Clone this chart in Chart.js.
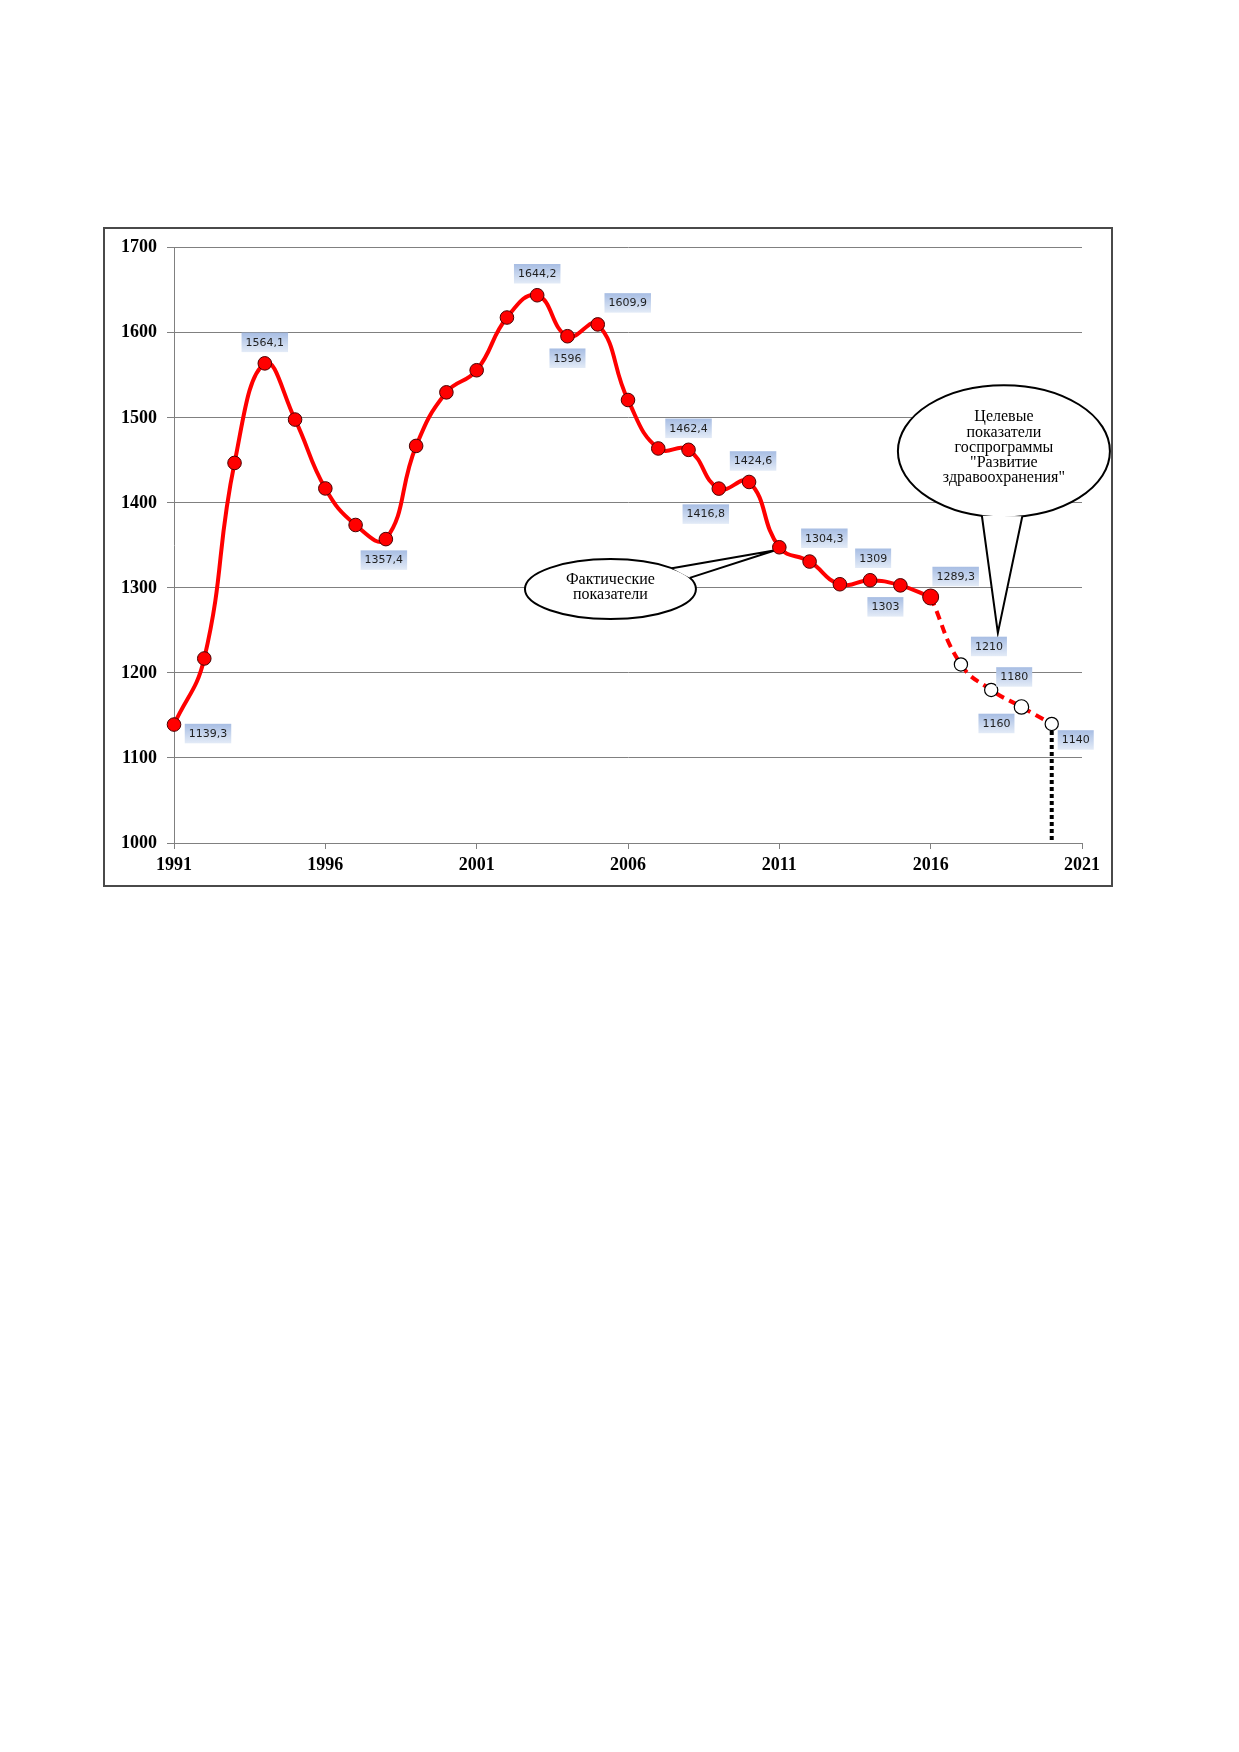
<!DOCTYPE html>
<html>
<head>
<meta charset="utf-8">
<script src="https://cdn.jsdelivr.net/npm/chart.js@4.4.1/dist/chart.umd.min.js"></script>
<style>
  html, body { margin: 0; padding: 0; background: #ffffff; }
  body { width: 1239px; height: 1752px; position: relative; overflow: hidden; }
  #wrap { position: absolute; left: 103px; top: 227px; width: 1010px; height: 660px; }
</style>
</head>
<body>
<div id="wrap"><canvas id="c" width="1010" height="660"></canvas></div>
<script>
// ---- data ----
const years = [1991, 1992, 1993, 1994, 1995, 1996, 1997, 1998, 1999, 2000,
               2001, 2002, 2003, 2004, 2005, 2006, 2007, 2008, 2009, 2010,
               2011, 2012, 2013, 2014, 2015, 2016];
const actualValues = [1139.3, 1217, 1447, 1564.1, 1498, 1417, 1374, 1357.4, 1467, 1530,
                      1556, 1618, 1644.2, 1596, 1609.9, 1521, 1464, 1462.4, 1416.8, 1424.6,
                      1347.8, 1331, 1304.3, 1309, 1303, 1289.3];
const targetYears = [2016, 2017, 2018, 2019, 2020];
const targetValues = [1289.3, 1210, 1180, 1160, 1140];
const markerLineYears = [2020, 2020];
const markerLineValues = [1140, 1000];
const xTickLabels = [1991, 1996, 2001, 2006, 2011, 2016, 2021];
const yTickLabels = [1000, 1100, 1200, 1300, 1400, 1500, 1600, 1700];
const labelYears = [1991, 1994, 1998, 2003, 2004, 2005, 2008, 2009, 2010, 2013,
                    2014, 2015, 2016, 2017, 2018, 2019, 2020];
const calloutActualText = ['Фактические', 'показатели'];
const calloutTargetText = ['Целевые', 'показатели', 'госпрограммы', '"Развитие', 'здравоохранения"'];

// ---- styling (label offsets in px, relative to the point) ----
const labelOffsets = {
  1991: [34, 9], 1994: [0, -21], 1998: [-2, 21], 2003: [0, -21.5], 2004: [0, 22],
  2005: [30, -21.5], 2008: [0, -21.5], 2009: [-13, 25.5], 2010: [4, -21],
  2013: [-15.5, -46], 2014: [3, -22], 2015: [-15, 21.5], 2016: [25, -20.5],
  2017: [28, -18], 2018: [23, -13], 2019: [-25, 16.5], 2020: [24, 16]
};

function valueFor(year) {
  const i = years.indexOf(year);
  if (i >= 0) return actualValues[i];
  return targetValues[targetYears.indexOf(year)];
}

const serif = "'Liberation Serif', 'Times New Roman', serif";

const labelsPlugin = {
  id: 'valueLabels',
  afterDatasetsDraw(chart) {
    const ctx = chart.ctx, xs = chart.scales.x, ys = chart.scales.y;
    ctx.save();
    ctx.font = "11px 'DejaVu Sans', Verdana, sans-serif";
    ctx.textAlign = 'center';
    ctx.textBaseline = 'middle';
    labelYears.forEach(yr => {
      const v = valueFor(yr);
      const txt = String(v).replace('.', ',');
      const off = labelOffsets[yr];
      const cx = xs.getPixelForValue(yr) + off[0];
      const cy = ys.getPixelForValue(v) + off[1];
      const w = ctx.measureText(txt).width + 8;
      const h = 19.5;
      const g = ctx.createLinearGradient(0, cy - h / 2, 0, cy + h / 2);
      g.addColorStop(0, '#a7bde3');
      g.addColorStop(1, '#e3ebf7');
      ctx.fillStyle = g;
      ctx.fillRect(cx - w / 2, cy - h / 2, w, h);
      ctx.fillStyle = '#1e1e1e';
      ctx.fillText(txt, cx, cy + 0.5);
    });
    ctx.restore();
  }
};

function drawCallout(ctx, cx, cy, rx, ry, tipX, tipY, a1, a2, lines, textDy) {
  const b1x = cx + rx * Math.cos(a1), b1y = cy + ry * Math.sin(a1);
  const b2x = cx + rx * Math.cos(a2), b2y = cy + ry * Math.sin(a2);
  ctx.save();
  ctx.lineWidth = 2;
  ctx.strokeStyle = '#000';
  ctx.fillStyle = '#fff';
  ctx.beginPath();
  ctx.ellipse(cx, cy, rx, ry, 0, 0, Math.PI * 2);
  ctx.fill();
  ctx.stroke();
  // tail
  ctx.beginPath();
  ctx.moveTo(b1x, b1y);
  ctx.lineTo(tipX, tipY);
  ctx.lineTo(b2x, b2y);
  ctx.closePath();
  ctx.fill();
  ctx.beginPath();
  ctx.moveTo(b1x, b1y);
  ctx.lineTo(tipX, tipY);
  ctx.lineTo(b2x, b2y);
  ctx.stroke();
  // text
  ctx.fillStyle = '#000';
  ctx.font = '16px ' + serif;
  ctx.textAlign = 'center';
  ctx.textBaseline = 'middle';
  const lh = 15.2;
  const start = cy + textDy - (lines.length - 1) * lh / 2;
  lines.forEach((t, i) => ctx.fillText(t, cx, start + i * lh));
  ctx.restore();
}

const calloutPlugin = {
  id: 'callouts',
  beforeDatasetsDraw(chart) {
    const ctx = chart.ctx, xs = chart.scales.x, ys = chart.scales.y;
    const deg = Math.PI / 180;
    // "Фактические показатели", pointing to 2011
    drawCallout(ctx,
      xs.getPixelForValue(2005.42), ys.getPixelForValue(1298.6), 85.5, 30,
      xs.getPixelForValue(2011) - 4, ys.getPixelForValue(valueFor(2011)) + 3,
      -44 * deg, -22 * deg, calloutActualText, -1.5);
    // target programme callout
    drawCallout(ctx,
      xs.getPixelForValue(2018.42), ys.getPixelForValue(1460.8), 106, 66,
      xs.getPixelForValue(2018.22), ys.getPixelForValue(1247),
      102 * deg, 80 * deg, calloutTargetText, -3.5);
  },
  afterDraw(chart) {
    const ctx = chart.ctx;
    ctx.save();
    ctx.strokeStyle = '#4a4a4a';
    ctx.lineWidth = 2;
    ctx.strokeRect(1, 1, chart.width - 2, chart.height - 2);
    ctx.restore();
  }
};

new Chart(document.getElementById('c'), {
  type: 'line',
  data: {
    datasets: [
      {
        label: 'actual',
        data: years.map((y, i) => ({ x: y, y: actualValues[i] })),
        borderColor: '#ff0000',
        borderWidth: 4,
        tension: 0.45,
        clip: false,
        pointRadius: years.map(y => (y === 2016 ? 8 : 6.8)),
        pointBackgroundColor: '#ff0000',
        pointBorderColor: '#4a0000',
        pointBorderWidth: 1,
        order: 1
      },
      {
        label: 'target',
        data: targetYears.map((y, i) => ({ x: y, y: targetValues[i] })),
        borderColor: '#ff0000',
        borderWidth: 4,
        borderDash: [9, 6],
        tension: 0.45,
        clip: false,
        pointRadius: targetYears.map((y, i) => (i === 0 ? 0 : (y === 2019 ? 7.2 : 6.6))),
        pointBackgroundColor: '#ffffff',
        pointBorderColor: '#000000',
        pointBorderWidth: 1.2,
        order: 2
      },
      {
        label: 'marker',
        data: markerLineYears.map((y, i) => ({ x: y, y: markerLineValues[i] })),
        borderColor: '#000000',
        borderWidth: 4,
        borderDash: [4, 3],
        pointRadius: 0,
        tension: 0,
        order: 3
      }
    ]
  },
  options: {
    responsive: false,
    animation: false,
    layout: { padding: { left: 0, top: 20.5, right: 31, bottom: 0 } },
    plugins: { legend: { display: false }, tooltip: { enabled: false } },
    scales: {
      x: {
        type: 'linear',
        min: 1991, max: 2021,
        afterBuildTicks: s => { s.ticks = xTickLabels.map(v => ({ value: v })); },
        afterFit: s => { s.height = 44; },
        ticks: {
          font: { family: serif, size: 18, weight: 'bold' },
          color: '#000', padding: 6, maxRotation: 0, autoSkip: false,
          callback: v => String(v)
        },
        grid: { drawOnChartArea: false, drawTicks: true, tickLength: 6, color: '#808080', lineWidth: 1 },
        border: { color: '#808080', width: 1 }
      },
      y: {
        min: 1000, max: 1700,
        afterBuildTicks: s => { s.ticks = yTickLabels.map(v => ({ value: v })); },
        afterFit: s => { s.width = 71; },
        ticks: {
          font: { family: serif, size: 18, weight: 'bold' },
          color: '#000', padding: 10,
          callback: v => String(v)
        },
        grid: { color: '#808080', lineWidth: 1, tickLength: 7 },
        border: { color: '#808080', width: 1 }
      }
    }
  },
  plugins: [calloutPlugin, labelsPlugin]
});
</script>
</body>
</html>
